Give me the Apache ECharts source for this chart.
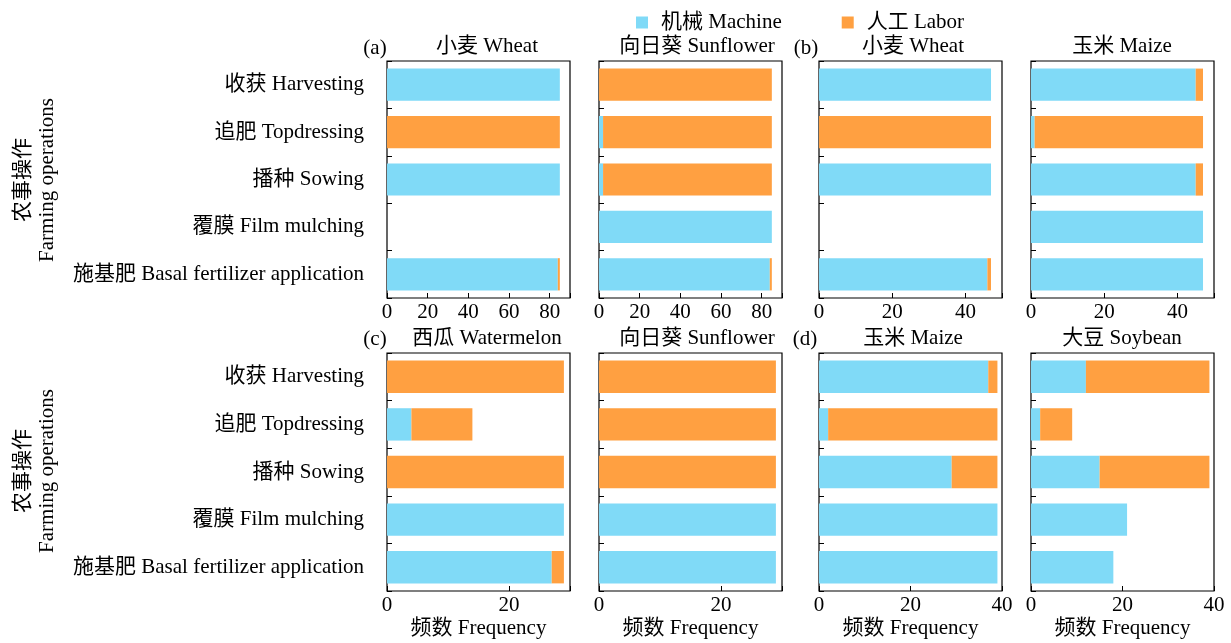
<!DOCTYPE html>
<html>
<head>
<meta charset="utf-8">
<script src="https://cdn.jsdelivr.net/npm/echarts@6/dist/echarts.min.js"></script>
<style>
  html, body { margin: 0; padding: 0; background: #fff; }
  #main { width: 1231px; height: 643px; }
</style>
</head>
<body>
<div id="main"></div>
<script>
// 农事操作类别（从上到下）
var categories = ['收获 Harvesting', '追肥 Topdressing', '播种 Sowing', '覆膜 Film mulching', '施基肥 Basal fertilizer application'];
var titles = ['小麦 Wheat', '向日葵 Sunflower', '小麦 Wheat', '玉米 Maize', '西瓜 Watermelon', '向日葵 Sunflower', '玉米 Maize', '大豆 Soybean'];
var panelTags = ['(a)', '(b)', '(c)', '(d)'];

// 机械 / 人工 频数
var machineA1 = [85, 0, 85, 0, 84];
var laborA1   = [0, 85, 0, 0, 1];
var machineA2 = [0, 2, 2, 85, 84];
var laborA2   = [85, 83, 83, 0, 1];
var machineB1 = [47, 0, 47, 0, 46];
var laborB1   = [0, 47, 0, 0, 1];
var machineB2 = [45, 1, 45, 47, 47];
var laborB2   = [2, 46, 2, 0, 0];
var machineC1 = [0, 4, 0, 29, 27];
var laborC1   = [29, 10, 29, 0, 2];
var machineC2 = [0, 0, 0, 29, 29];
var laborC2   = [29, 29, 29, 0, 0];
var machineD1 = [37, 2, 29, 39, 39];
var laborD1   = [2, 37, 10, 0, 0];
var machineD2 = [12, 2, 15, 21, 18];
var laborD2   = [27, 7, 24, 0, 0];

// x轴范围和刻度
var axisMax = [90, 90, 50, 50, 30, 30, 40, 40];
var tickLabels = [[0, 20, 40, 60, 80], [0, 20, 40, 60, 80], [0, 20, 40], [0, 20, 40],
                  [0, 20], [0, 20], [0, 20, 40], [0, 20, 40]];

var machineData = [machineA1, machineA2, machineB1, machineB2, machineC1, machineC2, machineD1, machineD2];
var laborData = [laborA1, laborA2, laborB1, laborB2, laborC1, laborC2, laborD1, laborD2];

var chart = echarts.init(document.getElementById('main'));
var FONT = "'Liberation Serif', 'Noto Sans CJK SC', serif";
var myColor = ['#80DAF7', '#FFA041'];

var lefts = [387, 599, 819, 1031];
var tops = [61, 353];
var heights = [237, 238];
var titleX = [487, 697, 913, 1122];

var grids = [], xAxes = [], yAxes = [], series = [], graphics = [];

for (var i = 0; i < 8; i++) {
    var col = i % 4, row = Math.floor(i / 4);
    grids.push({
        left: lefts[col], top: tops[row], width: 183, height: heights[row],
        show: true, borderColor: '#000', borderWidth: 1.2, backgroundColor: 'transparent'
    });
    (function (idx) {
        xAxes.push({
            gridIndex: idx, type: 'value', min: 0, max: axisMax[idx], interval: 20,
            axisLine: { show: false },
            axisTick: { show: true, inside: true, length: 5, lineStyle: { color: '#000' } },
            splitLine: { show: false },
            axisLabel: {
                show: true, margin: 4, color: '#000', fontSize: 21, fontFamily: FONT,
                formatter: function (v) { return tickLabels[idx].indexOf(v) >= 0 ? String(v) : ''; }
            },
            name: row === 1 ? '频数 Frequency' : '',
            nameLocation: 'middle', nameGap: 27,
            nameTextStyle: { color: '#000', fontSize: 21, fontFamily: FONT }
        });
    })(i);
    yAxes.push({
        gridIndex: i, type: 'category', data: categories, inverse: true,
        axisLine: { show: false },
        axisTick: { show: true, inside: true, length: 5, lineStyle: { color: '#000' } },
        axisLabel: { show: col === 0, margin: 23, color: '#000', fontSize: 21, fontFamily: FONT }
    });
    series.push({
        name: '机械 Machine', type: 'bar', stack: 's' + i, xAxisIndex: i, yAxisIndex: i,
        data: machineData[i], barCategoryGap: '32%', itemStyle: { color: myColor[0] }
    });
    series.push({
        name: '人工 Labor', type: 'bar', stack: 's' + i, xAxisIndex: i, yAxisIndex: i,
        data: laborData[i], barCategoryGap: '32%', itemStyle: { color: myColor[1] }
    });
    graphics.push({
        type: 'text', x: titleX[col], y: row === 0 ? 46 : 338,
        style: { text: titles[i], fill: '#000', font: '21px ' + FONT, textAlign: 'center', textVerticalAlign: 'middle' }
    });
}

// 面板编号
var tagPos = [[375, 48], [806, 48], [375, 339], [805, 339]];
for (var t = 0; t < 4; t++) {
    graphics.push({
        type: 'text', x: tagPos[t][0], y: tagPos[t][1],
        style: { text: panelTags[t], fill: '#000', font: '21px ' + FONT, textAlign: 'center', textVerticalAlign: 'middle' }
    });
}
// y轴标题
var yTitleY = [180, 471];
for (var r = 0; r < 2; r++) {
    graphics.push({
        type: 'text', x: 35, y: yTitleY[r], rotation: Math.PI / 2,
        style: { text: '农事操作\nFarming operations', fill: '#000', font: '21px ' + FONT,
                 lineHeight: 24, textAlign: 'center', textVerticalAlign: 'middle' }
    });
}

var option = {
    backgroundColor: '#fff',
    animation: false,
    legend: {
        data: ['机械 Machine', '人工 Labor'],
        left: 631, top: 7, icon: 'rect', itemWidth: 12, itemHeight: 12, itemGap: 60,
        textStyle: { color: '#000', fontSize: 21, fontFamily: FONT, padding: [0, 0, 0, 8] }
    },
    grid: grids,
    xAxis: xAxes,
    yAxis: yAxes,
    series: series,
    graphic: graphics
};

chart.setOption(option);
</script>
</body>
</html>
